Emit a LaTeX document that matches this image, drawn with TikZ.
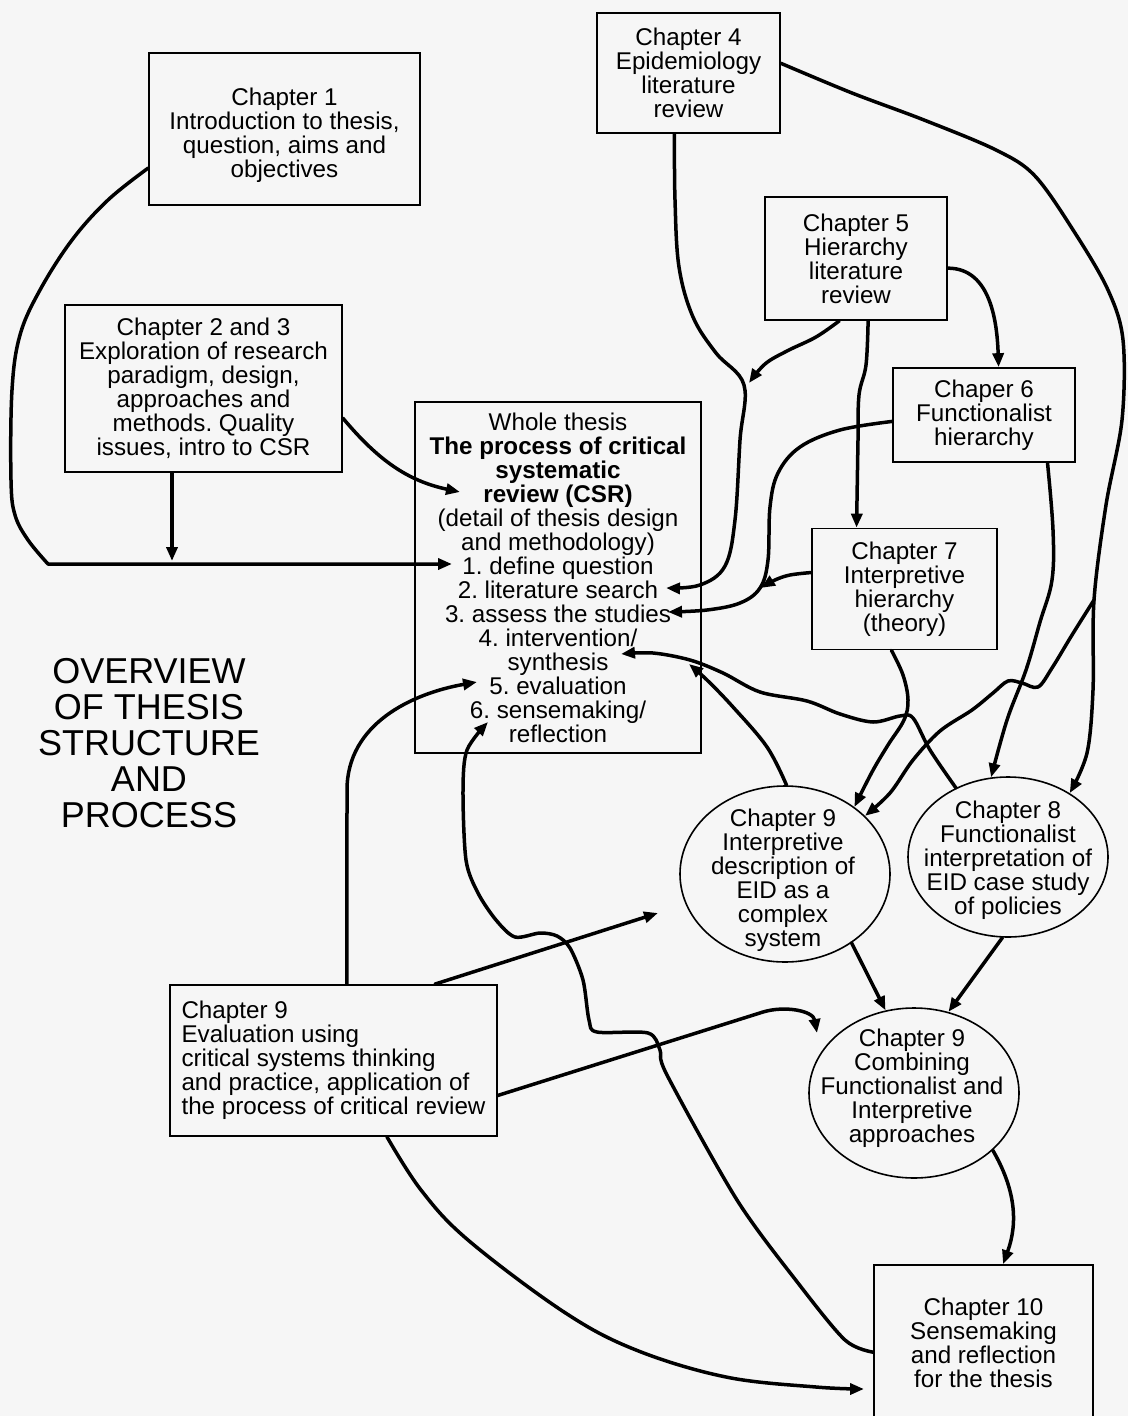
\documentclass[tikz,border=0pt]{standalone}
\usepackage{fontspec}
\setmainfont{Liberation Sans}
\usetikzlibrary{arrows.meta,shapes.geometric,calc}
\definecolor{paper}{RGB}{246,246,246}
\newcommand\labfont{\fontsize{24.2}{24}\selectfont}
\newcommand\headfont{\fontsize{36}{36}\selectfont}
\frenchspacing
\begin{document}
\begin{tikzpicture}[x=1pt,y=-1pt,
  box/.style={draw, line width=1.7pt, inner sep=0pt, align=center, font=\labfont},
  oval/.style={draw, ellipse, line width=1.6pt, inner sep=0pt},
  lbl/.style={align=center, font=\labfont, inner sep=0pt},
  heading/.style={align=center, font=\headfont, inner sep=0pt},
  conn/.style={line width=3.5pt, line cap=round, line join=round,
               -{Triangle[length=14pt,width=11pt]}}]

% page
\fill[paper] (0,0) rectangle (1128,1416);
\useasboundingbox (0,0) rectangle (1128,1416);

% chapter boxes
\node[box, minimum width=271, minimum height=152] (ch1) at (284.5,129) {};
\node[lbl] (ch1-t) at (284.5,135)
  {Chapter 1\\Introduction to thesis,\\question, aims and\\objectives};
\node[box, minimum width=277, minimum height=167] (ch23) at (203.5,388.5)
  {Chapter 2 and 3\\Exploration of research\\paradigm, design,\\approaches and\\methods. Quality\\issues, intro to CSR};
\node[box, minimum width=286, minimum height=351] (whole) at (558,577.5)
  {Whole thesis\\\textbf{The process of critical}\\\textbf{systematic}\\\textbf{review (CSR)}\\(detail of thesis design\\and methodology)\\1. define question\\2. literature search\\3. assess the studies\\4. intervention/\\synthesis\\5. evaluation\\6. sensemaking/\\reflection};
\node[box, minimum width=183, minimum height=120] (ch4) at (688.5,73)
  {Chapter 4\\Epidemiology\\literature\\review};
\node[box, minimum width=182, minimum height=123] (ch5) at (856,258.5)
  {Chapter 5\\Hierarchy\\literature\\review};
\node[box, minimum width=182, minimum height=94] (ch6) at (984,415)
  {Chaper 6\\Functionalist\\hierarchy};
\node[box, minimum width=185, minimum height=121] (ch7) at (904.5,589)
  {Chapter 7\\Interpretive\\hierarchy\\(theory)};
\node[box, minimum width=327, minimum height=151, align=left] (ch9e) at (333.5,1060.5)
  {Chapter 9\\Evaluation using\\critical systems thinking\\and practice, application of\\the process of critical review};
\node[box, minimum width=219, minimum height=155] (ch10) at (983.5,1342.5)
  {Chapter 10\\Sensemaking\\and reflection\\for the thesis};

% chapter ellipses
\node[oval, minimum width=210, minimum height=176] (ch9i) at (785,874) {};
\node[lbl] (ch9i-t) at (783,880)
  {Chapter 9\\Interpretive\\description of\\EID as a\\complex\\system};
\node[oval, minimum width=200, minimum height=160] (ch8) at (1008,857) {};
\node[lbl] (ch8-t) at (1008,860)
  {Chapter 8\\Functionalist\\interpretation of\\EID case study\\of policies};
\node[oval, minimum width=210, minimum height=170] (ch9c) at (914,1093) {};
\node[lbl] (ch9c-t) at (912,1088)
  {Chapter 9\\Combining\\Functionalist and\\Interpretive\\approaches};

% heading
\node[heading] (title) at (149,743) {OVERVIEW\\OF THESIS\\STRUCTURE\\AND\\PROCESS};

% arrow targets beside the steps of the process box
\coordinate (t-def) at (452,564);
\coordinate (j23) at (172,561);
\coordinate (t-csr) at (460,492);
\coordinate (t-lit) at (666,588);
\coordinate (t-assess) at (668,612);
\coordinate (t-inter) at (621,654);
\coordinate (t-eval) at (477,682);
\coordinate (t-sense) at (488,722);
% junctions where one connector joins another
\coordinate (m-lit) at (749,383);
\coordinate (m-assess) at (761,588);
\coordinate (m-inter) at (689,664);
\coordinate (fork) at (1094,600);
% free ends in the lower part
\coordinate (t-9i) at (658,913);
\coordinate (t-9c) at (817,1033);
\coordinate (t-10) at (864,1389);

% Chapter 1 -> define question
\draw[conn] plot[smooth, tension=0.6] coordinates
  {(ch1.196) (108,200) (72,240) (40,290) (20,335) (12,390) (11,480) (15,515) (28,540) (48,564)}
  -- (t-def);
% Chapter 2 and 3 -> the same line, and -> CSR
\draw[conn] (j23 |- ch23.south) -- (j23);
\draw[conn] (ch23.348) to[out=-50, in=168] (t-csr);

% Chapter 4 -> literature search, with Chapter 5 joining
\draw[conn] plot[smooth, tension=0.6] coordinates
  {(ch4.257) (675,200) (679,267) (693,317) (716,353) (744,385) (740,440) (735,520) (725,566) (700,585) (t-lit)};
\draw[conn] plot[smooth, tension=0.6] coordinates
  {(ch5.255) (816,337) (787,351) (765,364) (m-lit)};
% Chapter 5 -> Chapter 7, Chapter 5 -> Chapter 6
\draw[conn] plot[smooth, tension=0.6] coordinates
  {(ch5.281) (866,365) (859,395) (858,440) (ch7.128)};
\draw[conn] (ch5.354) to[out=0, in=92] (ch6.73);

% Chapter 6 -> assess the studies, with Chapter 7 joining
\draw[conn] plot[smooth, tension=0.6] coordinates
  {(ch6.184) (840,430) (800,447) (778,473) (770,507) (768,560) (760,588) (740,603) (707,610) (t-assess)};
\draw[conn] plot[smooth, tension=0.6] coordinates
  {(ch7.170) (790,575) (775,580) (m-assess)};

% Chapter 4 -> Chapter 8, branching to Chapter 9 (interpretive)
\draw[conn] plot[smooth, tension=0.55] coordinates
  {(ch4.6) (852,93) (924,120) (996,150) (1035,176) (1075,233) (1108,290) (1123,340) (1122,420) (1106,505) (fork) (1093,690) (1087,753) (ch8.46)};
\draw[conn] plot[smooth, tension=0.55] coordinates
  {(fork) (1072,635) (1052,668) (1038,687) (1022,683) (1008,681) (993,693) (972,710) (940,731) (913,760) (890,793) (ch9i.36)};

% Chapter 6 -> Chapter 8, Chapter 7 -> Chapter 9 (interpretive)
\draw[conn] plot[smooth, tension=0.6] coordinates
  {(ch6.323) (1053,530) (1052,580) (1040,622) (1026,670) (1007,720) (ch8.102)};
\draw[conn] plot[smooth, tension=0.6] coordinates
  {(ch7.258) (903,675) (908,700) (904,720) (888,745) (872,772) (ch9i.44)};

% Chapter 8 -> intervention/synthesis, with Chapter 9 (interpretive) joining
\draw[conn] plot[smooth, tension=0.55] coordinates
  {(ch8.127) (930,750) (913,718) (900,716) (873,722) (840,714) (807,701) (760,692) (723,673) (690,660) (653,653) (t-inter)};
\draw[conn] plot[smooth, tension=0.6] coordinates
  {(ch9i.89) (767,747) (733,707) (707,680) (m-inter)};

% Chapter 9 (evaluation) connectors
\draw[conn] (ch9e.80) -- (347,790) to[out=90, in=190] (t-eval);
\draw[conn] (ch9e.37) -- (t-9i);
\draw[conn] (ch9e.348) -- (763,1012) to[out=17, in=100] (t-9c);
\draw[conn] plot[smooth, tension=0.6] coordinates
  {(ch9e.305) (421,1190) (468,1240) (564,1312) (636,1350) (726,1377) (816,1387) (t-10)};

% Chapter 10 -> sensemaking/reflection
\draw[conn] plot[smooth, tension=0.5] coordinates
  {(ch10.185) (845,1340) (798,1283) (737,1200) (667,1075) (660,1050) (648,1033) (597,1032) (589,1020) (583,980) (570,948) (557,936) (540,933) (515,937) (496,920) (478,893) (466,860) (463,790) (467,750) (t-sense)};

% ellipses feeding the combination, and on to Chapter 10
\draw[conn] (ch9i.314) -- (ch9c.109);
\draw[conn] (ch8.266) -- (ch9c.67);
\draw[conn] (ch9c.324) to[out=-60, in=70] (ch10.76);

\end{tikzpicture}
\end{document}
